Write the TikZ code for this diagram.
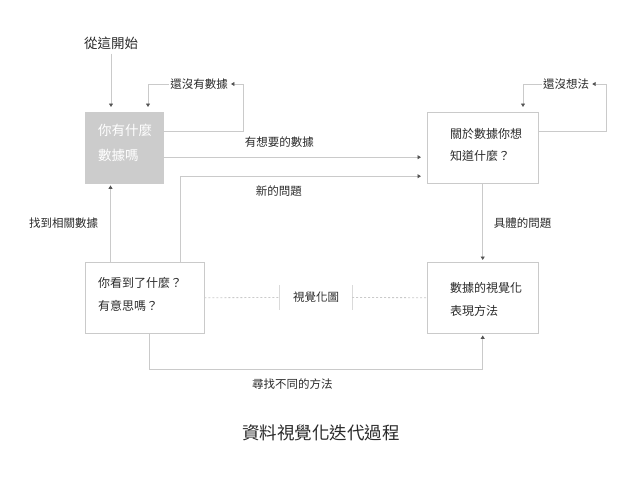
\documentclass[tikz,border=0pt]{standalone}
\usepackage{fontspec}
\setmainfont{Noto Sans CJK TC}
\usetikzlibrary{arrows.meta,positioning}
\definecolor{lineGray}{HTML}{CACACA}
\definecolor{tipGray}{HTML}{555555}
\definecolor{txtGray}{HTML}{2A2A2A}
\definecolor{boxFill}{HTML}{CCCCCC}

\tikzset{
  box/.style={draw=lineGray, anchor=north west, minimum height=71pt, inner sep=0pt},
  boxtxt/.style={anchor=west, align=left, inner sep=0pt, text=txtGray, font=\fontsize{12}{22.5}\selectfont},
  lbl/.style={inner sep=1pt, text=txtGray, font=\fontsize{11.5}{13}\selectfont},
  link/.style={draw=lineGray, line width=0.8pt},
  arr/.style={link, -{Triangle[width=4pt,length=3.5pt,color=tipGray]}, shorten >=5pt},
  dots/.style={draw=lineGray, line width=0.8pt, dash pattern=on 2pt off 2pt},
  tick/.style={draw=lineGray!70, line width=0.8pt},
}

\begin{document}
\begin{tikzpicture}[x=1pt,y=-1pt]
  \useasboundingbox (0,0) rectangle (640,480);

  % the four boxes
  \node[box, draw=boxFill, fill=boxFill, minimum width=78pt] (have) at (85,112) {};
  \node[box, minimum width=111pt] (ask) at (427,112) {};
  \node[box, minimum width=119pt] (see) at (85,262) {};
  \node[box, minimum width=111pt] (show) at (427,262) {};

  \node[boxtxt, text=white, font=\fontsize{13.5}{25}\selectfont] (haveTxt)
    at ([xshift=13pt,yshift=5pt]have.west) {你有什麼\\數據嗎};
  \node[boxtxt] (askTxt) at ([xshift=23pt,yshift=3pt]ask.west) {關於數據你想\\知道什麼？};
  \node[boxtxt] (seeTxt) at ([xshift=13pt,yshift=3.5pt]see.west) {你看到了什麼？\\有意思嗎？};
  \node[boxtxt] (showTxt) at ([xshift=23pt,yshift=-1.5pt]show.west) {數據的視覺化\\表現方法};

  % start
  \node[lbl, font=\fontsize{13.5}{15}\selectfont] (start) at (111,43) {從這開始};
  \draw[arr, shorten <=3pt] (start.south) -- (start.south |- have.north);

  % loop: no data yet
  \node[lbl] (nodata) at (199,84) {還沒有數據};
  \draw[arr, shorten >=2pt] ([yshift=16.5pt]have.east) -- ++(80,0) |- (nodata.east);
  \draw[arr] (nodata.west) -| ([xshift=63pt]have.north west);

  % loop: no idea yet
  \node[lbl] (noidea) at (566,84) {還沒想法};
  \draw[arr, shorten >=2pt] ([yshift=16.5pt]ask.east) -- ++(68,0) |- (noidea.east);
  \draw[arr] (noidea.west) -| ([xshift=96pt]ask.north west);

  \draw[arr, shorten >=6pt] ([yshift=-9.5pt]have.east) -- ([yshift=-9.5pt]have.east -| ask.west)
    node[lbl, pos=0.44, yshift=15pt] (wanted) {有想要的數據};
  \draw[arr, shorten >=6pt] ([xshift=95pt]see.north west) |- ([yshift=-28.5pt]ask.west)
    node[lbl, pos=0.70, yshift=-15pt] (newq) {新的問題};
  \draw[arr, shorten >=2pt] (ask.south) -- (show.north)
    node[lbl, midway, xshift=40pt] (concrete) {具體的問題};
  \draw[arr, shorten >=2pt] ([xshift=25.5pt]see.north west) -- ([xshift=25.5pt]have.south west)
    node[lbl, midway, xshift=-47pt] (found) {找到相關數據};
  \draw[arr, shorten >=2pt] ([xshift=64pt]see.south west) -- ++(0,36) -| (show.south)
    node[lbl, pos=0.215, yshift=-15pt] (other) {尋找不同的方法};

  % visualisation in the middle
  \node[lbl, minimum width=72pt, minimum height=24pt] (vis) at (316,297.5) {視覺化圖};
  \draw[tick] (vis.north west) -- (vis.south west);
  \draw[tick] (vis.north east) -- (vis.south east);
  \draw[dots] (see.east) -- (vis.west);
  \draw[dots] (vis.east) -- (show.west);

  \node[text=txtGray, font=\fontsize{17.5}{20}\selectfont] (title) at (321,433) {資料視覺化迭代過程};
\end{tikzpicture}
\end{document}
